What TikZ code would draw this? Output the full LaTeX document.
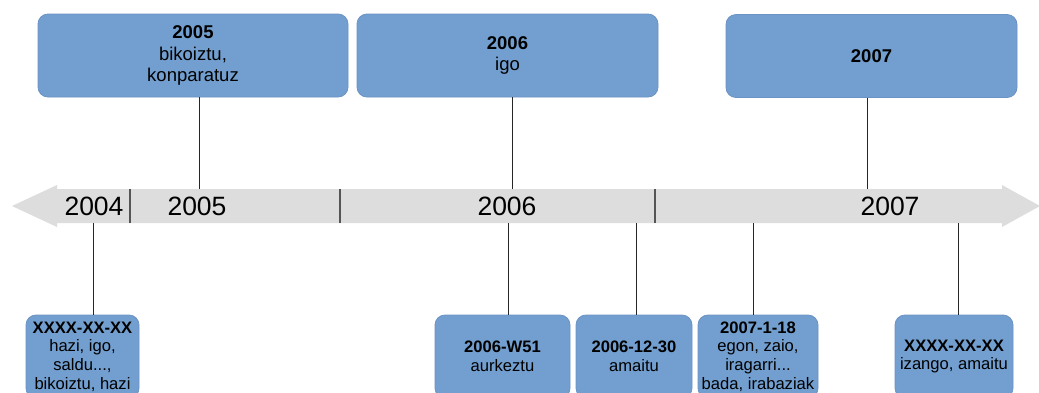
\documentclass[tikz,border=0pt]{standalone}
\usepackage{fontspec}
\setmainfont{Liberation Sans}
\definecolor{boxblue}{HTML}{729FCF}
\definecolor{boxedge}{HTML}{6A93C4}
\definecolor{bandgray}{HTML}{DDDDDD}
\definecolor{sepgray}{HTML}{555555}
\begin{document}
\begin{tikzpicture}[x=1pt,y=-1pt,
  topbox/.style={draw=boxedge, line width=0.8pt, fill=boxblue, rounded corners=10pt,
    inner sep=0pt, align=center, minimum height=83pt, font=\fontsize{18.5}{21.3}\selectfont},
  botbox/.style={draw=boxedge, line width=0.8pt, fill=boxblue, rounded corners=10pt,
    inner sep=0pt, align=center, minimum height=83pt, font=\fontsize{16.6}{18.6}\selectfont},
  yearlbl/.style={font=\fontsize{26.5}{30}\selectfont, inner sep=0pt, anchor=base},
  conn/.style={draw=black!85, line width=1pt},
  sepline/.style={draw=sepgray, line width=2pt}]
\clip (0,0) rectangle (1039,392);
\fill[white] (0,0) rectangle (1039,392);
% timeline arrow
\fill[bandgray] (12,206) -- (57,185) -- (57,189) -- (1002,189) -- (1002,185)
  -- (1040,206) -- (1002,227) -- (1002,223) -- (57,223) -- (57,227) -- cycle;
\draw[sepline] (130,189) -- (130,223);
\draw[sepline] (340,189) -- (340,223);
\draw[sepline] (655,189) -- (655,223);
\node[yearlbl] (y2004) at (94,215) {2004};
\node[yearlbl] (y2005) at (197,215) {2005};
\node[yearlbl] (y2006) at (507,215) {2006};
\node[yearlbl] (y2007) at (890,215) {2007};
% top boxes
\node[topbox, minimum width=310pt] (t1) at (193,55.5) {\textbf{2005}\\bikoiztu,\\konparatuz};
\node[topbox, minimum width=301pt] (t2) at (507.5,55.5) {\textbf{2006}\\igo};
\node[topbox, minimum width=291pt] (t3) at (871.5,56) {\textbf{2007}};
% bottom boxes
\node[botbox, minimum width=113pt] (b1) at (82.5,356.5) {\textbf{XXXX-XX-XX}\\hazi, igo,\\saldu...,\\bikoiztu, hazi};
\node[botbox, minimum width=135pt] (b2) at (502.5,356.5) {\textbf{2006-W51}\\aurkeztu};
\node[botbox, minimum width=116pt] (b3) at (634,356.5) {\textbf{2006-12-30}\\amaitu};
\node[botbox, minimum width=120pt] (b4) at (758,356.5) {\textbf{2007-1-18}\\egon, zaio,\\iragarri...\\bada, irabaziak};
\node[botbox, minimum width=118pt] (b5) at (954,356.5) {\textbf{XXXX-XX-XX}\\izango, amaitu};
% connector ends on the timeline
\coordinate (a1) at (199,189);
\coordinate (a2) at (512,189);
\coordinate (a3) at (867,189);
\coordinate (d1) at (93,223);
\coordinate (d2) at (508,223);
\coordinate (d3) at (636,223);
\coordinate (d4) at (753,223);
\coordinate (d5) at (958,223);
\draw[conn] (a1 |- t1.south) -- (a1);
\draw[conn] (a2 |- t2.south) -- (a2);
\draw[conn] (a3 |- t3.south) -- (a3);
\draw[conn] (d1) -- (d1 |- b1.north);
\draw[conn] (d2) -- (d2 |- b2.north);
\draw[conn] (d3) -- (d3 |- b3.north);
\draw[conn] (d4) -- (d4 |- b4.north);
\draw[conn] (d5) -- (d5 |- b5.north);
\end{tikzpicture}
\end{document}
